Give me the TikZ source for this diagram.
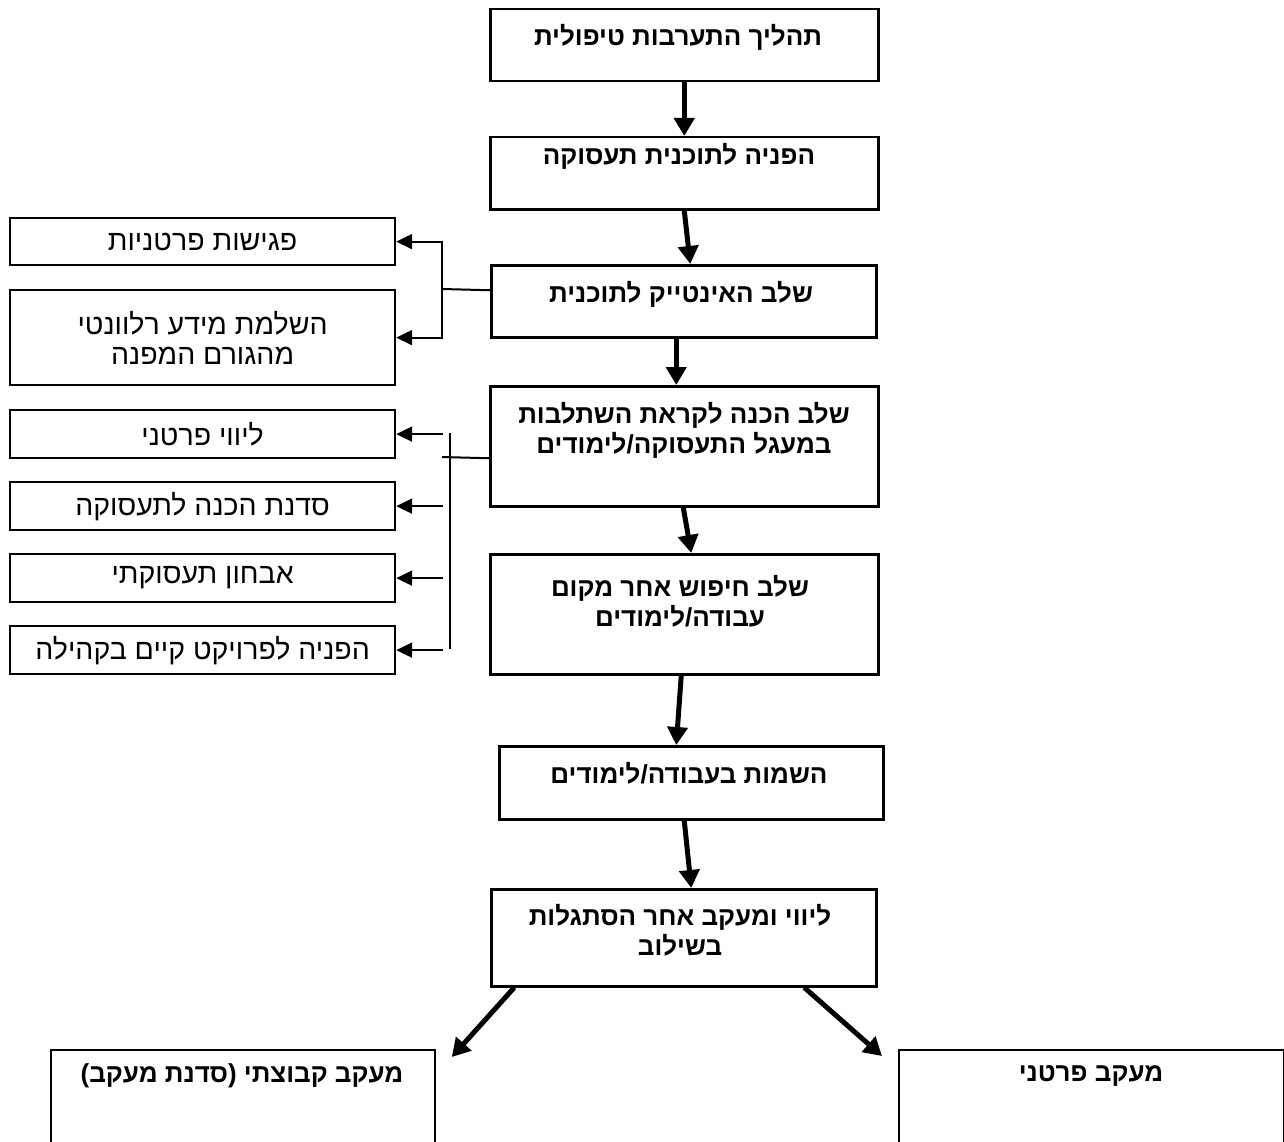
\documentclass[tikz,border=0pt]{standalone}
\usepackage{fontspec}
\usetikzlibrary{arrows.meta}
\TeXXeTstate=1
\newfontfamily\hebsan[Script=Hebrew]{Liberation Sans}
\newfontfamily\latsan{Liberation Sans}
\newcommand{\lparen}{\hbox{\latsan\bfseries (}}
\newcommand{\rparen}{\hbox{\latsan\bfseries )}}
\begin{document}
\begin{tikzpicture}[x=1pt,y=-1pt,
  cbox/.style={draw, line width=2.5pt, anchor=north west, inner sep=0pt},
  lbox/.style={draw, line width=2.2pt, anchor=north west, inner sep=0pt, minimum width=385pt,
     font=\hebsan\fontsize{28.5}{30}\selectfont, align=center},
  fbox/.style={draw, line width=1.8pt, anchor=north west, inner sep=0pt},
  ctext/.style={inner sep=0pt, align=center, font=\hebsan\bfseries\fontsize{26}{30}\selectfont},
  thick arrow/.style={line width=5pt, -{Triangle[length=18pt,width=20pt]}},
  branch/.style={line width=2pt},
  thin arrow/.style={line width=2pt, -{Triangle[length=16pt,width=15pt]}}]
\useasboundingbox (0,0) rectangle (1284,1142);
\clip (0,0) rectangle (1284,1142);
\fill[white] (0,0) rectangle (1284,1142);

% central boxes
\node[cbox, minimum width=388pt, minimum height=72pt] (b1) at (489,8) {};
\node[cbox, minimum width=388pt, minimum height=72pt] (b2) at (489,136) {};
\node[cbox, minimum width=385pt, minimum height=72pt] (b3) at (490,264) {};
\node[cbox, minimum width=388pt, minimum height=120pt] (b4) at (489,385) {};
\node[cbox, minimum width=388pt, minimum height=120pt] (b5) at (489,553) {};
\node[cbox, minimum width=384pt, minimum height=73pt] (b6) at (498,745) {};
\node[cbox, minimum width=385pt, minimum height=97pt] (b7) at (490,888) {};
\node[fbox, minimum width=384pt, minimum height=120pt] (b8) at (50,1049) {};
\node[fbox, minimum width=385pt, minimum height=120pt] (b9) at (898,1049) {};

% central texts
\node[ctext] (t1) at (678,37) {\beginR תהליך התערבות טיפולית\endR};
\node[ctext] (t2) at (679,156) {\beginR הפניה לתוכנית תעסוקה\endR};
\node[ctext] (t3) at (681,294) {\beginR שלב האינטייק לתוכנית\endR};
\node[ctext] (t4) at (684,430) {\beginR שלב הכנה לקראת השתלבות\endR\\\beginR במעגל התעסוקה/לימודים\endR};
\node[ctext] (t5) at (680,601) {\beginR שלב חיפוש אחר מקום\endR\\\beginR עבודה/לימודים\endR};
\node[ctext] (t6) at (689,773) {\beginR השמות בעבודה/לימודים\endR};
\node[ctext] (t7) at (680,930) {\beginR ליווי ומעקב אחר הסתגלות\endR\\\beginR בשילוב\endR};
\node[ctext] (t8) at (242,1076) {\beginR מעקב קבוצתי \rparen סדנת מעקב\lparen\endR};
\node[ctext] (t9) at (1091,1076) {\beginR מעקב פרטני\endR};

% left boxes
\node[lbox, minimum height=47pt] (la) at (9,217) {\beginR פגישות פרטניות\endR};
\node[lbox, minimum height=95pt] (lb) at (9,289) {\beginR השלמת מידע רלוונטי\endR\\\beginR מהגורם המפנה\endR};
\node[lbox, minimum height=48pt] (lc) at (9,409) {\beginR ליווי פרטני\endR};
\node[lbox, minimum height=48pt] (ld) at (9,481) {\beginR סדנת הכנה לתעסוקה\endR};
\node[lbox, minimum height=48pt] (le) at (9,553) {\beginR אבחון תעסוקתי\endR};
\node[lbox, minimum height=48pt] (lf) at (9,625) {\beginR הפניה לפרויקט קיים בקהילה\endR};

% main chain
\draw[thick arrow] (b1.south) -- (b2.north);
\draw[thick arrow] (b2.south) -- ([xshift=6.5pt]b3.north);
\draw[thick arrow] ([xshift=-7.5pt]b3.south) -- ([xshift=-8pt]b4.north);
\draw[thick arrow] ([xshift=-1pt]b4.south) -- ([xshift=7pt]b5.north);
\draw[thick arrow] ([xshift=-3pt]b5.south) -- ([xshift=-15pt]b6.north);
\draw[thick arrow] ([xshift=-7pt]b6.south) -- ([xshift=7.5pt]b7.north);
\draw[thick arrow] ([xshift=-169.5pt]b7.south) -- ([xshift=16pt,yshift=-8pt]b8.north east);
\draw[thick arrow] ([xshift=120.5pt]b7.south) -- ([xshift=-16pt,yshift=-7pt]b9.north west);

% branch from intake
\coordinate (j1) at (442,289);
\draw[branch] ([yshift=11pt]b3.west) -- (j1);
\draw[thin arrow] (j1) |- (la.east);
\draw[thin arrow] (j1) |- (lb.east);

% branch from preparation
\coordinate (j2) at (442,457);
\coordinate (v1) at (450,433);
\coordinate (v2) at (450,649);
\coordinate (s2) at (443,433);
\draw[branch] ([yshift=-12pt]b4.west) -- (j2);
\draw[branch] (v1) -- (v2);
\draw[thin arrow] (s2 |- lc.east) -- (lc.east);
\draw[thin arrow] (s2 |- ld.east) -- (ld.east);
\draw[thin arrow] (s2 |- le.east) -- (le.east);
\draw[thin arrow] (s2 |- lf.east) -- (lf.east);
\end{tikzpicture}
\end{document}
